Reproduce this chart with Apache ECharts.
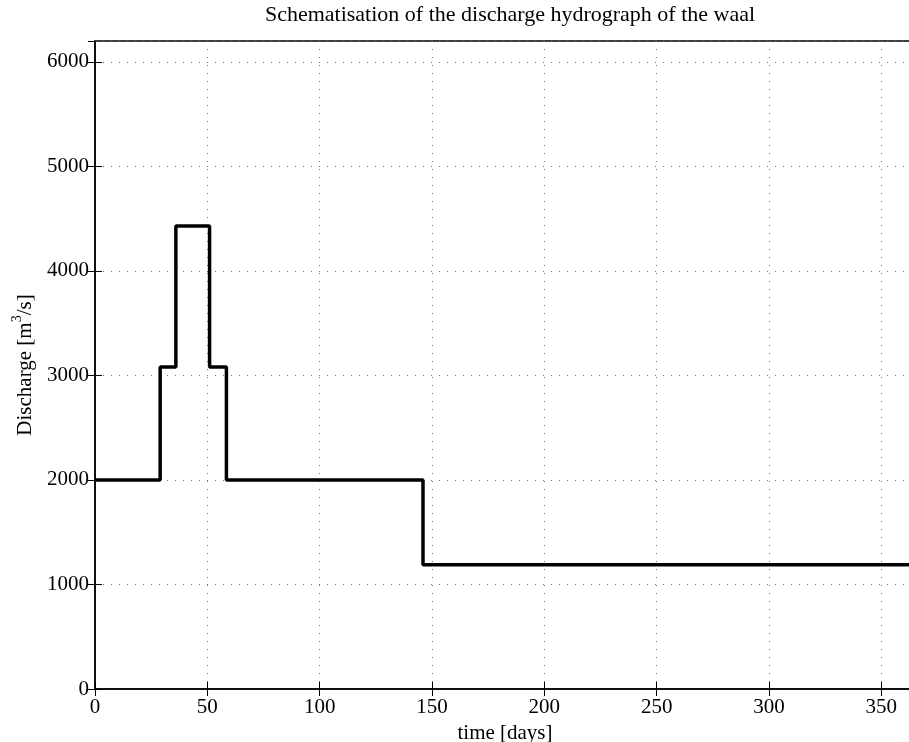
<!DOCTYPE html>
<html>
<head>
<meta charset="utf-8">
<script src="https://cdn.jsdelivr.net/npm/echarts@6/dist/echarts.min.js"></script>
<style>
  html, body { margin: 0; padding: 0; background: #fff; }
  #chart { width: 909px; height: 742px; }
</style>
</head>
<body>
<div id="chart"></div>
<script>
// step hydrograph: start day of each block and its discharge
const stepDays = [0, 29, 36, 51, 58.5, 146]
const stepDischarge = [2000, 3080, 4430, 3080, 2000, 1190]
const endDay = 365
const xTicks = [0, 50, 100, 150, 200, 250, 300, 350]
const yTicks = [0, 1000, 2000, 3000, 4000, 5000, 6000]

const FONT = "'Liberation Serif', 'DejaVu Serif', serif"

const data = stepDays.map((d, i) => [d, stepDischarge[i]])
data.push([endDay, stepDischarge[stepDischarge.length - 1]])

const chart = echarts.init(document.getElementById('chart'))

const dotted = { lineStyle: { color: '#777', width: 1, type: [1, 7] } }

chart.setOption({
  animation: false,
  title: {
    text: 'Schematisation of the discharge hydrograph of the waal',
    left: 505, top: -1, textAlign: 'center',
    textStyle: { fontFamily: FONT, fontSize: 22, fontWeight: 'normal', color: '#000' }
  },
  grid: {
    left: 95, top: 41, width: 820, height: 648,
    outerBoundsMode: 'none', containLabel: false,
    show: true, borderColor: '#000', borderWidth: 1.5, backgroundColor: '#fff'
  },
  xAxis: [{
    type: 'value', min: 0, max: endDay, interval: 50,
    name: 'time [days]', nameLocation: 'middle', nameGap: 33,
    nameTextStyle: { fontFamily: FONT, fontSize: 21, color: '#000' },
    axisLine: { lineStyle: { color: '#000', width: 1.5 } },
    axisTick: { inside: true, length: 7, lineStyle: { color: '#000' } },
    axisLabel: {
      fontFamily: FONT, fontSize: 21, color: '#000', margin: 8,
      showMaxLabel: false,
      formatter: v => xTicks.includes(v) ? String(v) : ''
    },
    splitLine: { show: true, ...dotted }
  }, {
    type: 'value', min: 0, max: endDay, interval: 50, position: 'top',
    axisLine: { show: false },
    axisTick: { inside: true, length: 7, lineStyle: { color: '#000' } },
    axisLabel: { show: false }, splitLine: { show: false }
  }],
  yAxis: [{
    type: 'value', min: 0, max: 6200, interval: 1000,
    name: '{t|Discharge [m}{s|3}{t|/s]}', nameLocation: 'middle', nameGap: 58, nameRotate: 90,
    nameTextStyle: {
      rich: {
        t: { fontFamily: FONT, fontSize: 21, color: '#000', verticalAlign: 'bottom', lineHeight: 26 },
        s: { fontFamily: FONT, fontSize: 14, color: '#000', verticalAlign: 'top', lineHeight: 26 }
      }
    },
    axisLine: { lineStyle: { color: '#000', width: 1.5 } },
    axisTick: { inside: true, length: 7, lineStyle: { color: '#000' } },
    axisLabel: {
      fontFamily: FONT, fontSize: 21, color: '#000', margin: 6,
      showMaxLabel: false,
      formatter: v => yTicks.includes(v) ? String(v) : ''
    },
    splitLine: { show: true, ...dotted }
  }, {
    type: 'value', min: 0, max: 6200, interval: 1000, position: 'right',
    axisLine: { show: false },
    axisTick: { inside: true, length: 7, lineStyle: { color: '#000' } },
    axisLabel: { show: false }, splitLine: { show: false }
  }],
  series: [{
    type: 'line', step: 'end', data: data,
    xAxisIndex: 0, yAxisIndex: 0,
    symbol: 'none',
    lineStyle: { color: '#000', width: 3.5 }
  }]
})
</script>
</body>
</html>
